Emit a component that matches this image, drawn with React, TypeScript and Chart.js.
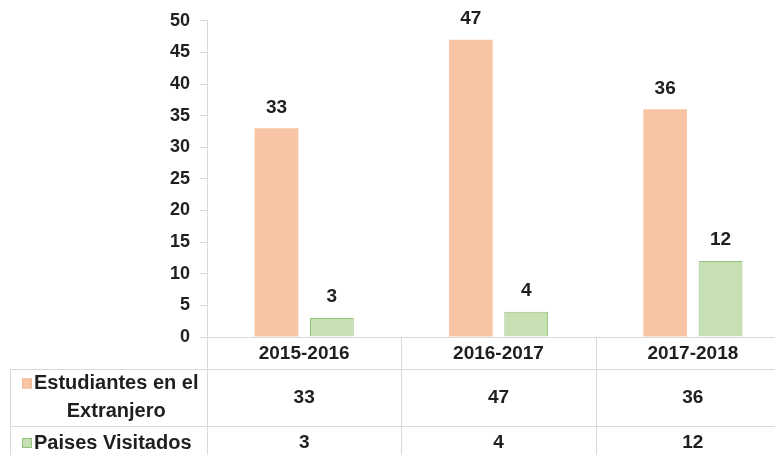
import React, { useEffect, useRef } from 'react';
import { Chart, registerables } from 'chart.js';

Chart.register(...registerables);

const categories = ['2015-2016', '2016-2017', '2017-2018'];
const estudiantes = [33, 47, 36];
const paises = [3, 4, 12];
const seriesNames = ['Estudiantes en el Extranjero', 'Paises Visitados'];
const seriesLabelLines = [['Estudiantes en el', 'Extranjero'], ['Paises Visitados']];
const yMin = 0;
const yMax = 50;
const yStep = 5;

const FONT_FAMILY = "'Liberation Sans', Arial, sans-serif";
const TEXT = '#1f1f1f';
const LINE = '#d9d9d9';
const ORANGE = '#F8C5A4';
const ORANGE_BORDER = '#F4B892';
const GREEN = '#C6E0B4';
const GREEN_BORDER = '#93C47D';

export default function App() {
  const ref = useRef<HTMLCanvasElement>(null);

  useEffect(() => {
    if (!ref.current) return;

    const valueLabels = {
      id: 'valueLabels',
      afterDatasetsDraw(chart: any) {
        const ctx = chart.ctx;
        ctx.save();
        ctx.font = `bold 19px ${FONT_FAMILY}`;
        ctx.fillStyle = TEXT;
        ctx.textAlign = 'center';
        ctx.textBaseline = 'middle';
        chart.data.datasets.forEach((ds: any, di: number) => {
          const meta = chart.getDatasetMeta(di);
          meta.data.forEach((el: any, i: number) => {
            ctx.fillText(String(ds.data[i]), el.x, el.y - 21);
          });
        });
        ctx.restore();
      },
    };

    const dataTable = {
      id: 'dataTable',
      afterDraw(chart: any) {
        const ctx = chart.ctx;
        const xs = chart.scales.x;
        const area = chart.chartArea;
        const top = area.bottom;
        const r1 = top + 32;
        const r2 = r1 + 57;
        const bottom = r2 + 34;
        const tableLeft = 10;
        const n = categories.length;
        const w = (area.right - area.left) / n;
        ctx.save();
        ctx.strokeStyle = LINE;
        ctx.lineWidth = 1;
        for (let i = 0; i <= n; i++) {
          const x = Math.round(area.left + i * w) + 0.5;
          ctx.beginPath();
          ctx.moveTo(x, top);
          ctx.lineTo(x, bottom);
          ctx.stroke();
        }
        ctx.beginPath();
        ctx.moveTo(tableLeft + 0.5, r1);
        ctx.lineTo(tableLeft + 0.5, bottom);
        ctx.stroke();
        [r1, r2, bottom].forEach((y) => {
          ctx.beginPath();
          ctx.moveTo(tableLeft, Math.round(y) + 0.5);
          ctx.lineTo(area.right, Math.round(y) + 0.5);
          ctx.stroke();
        });

        ctx.fillStyle = TEXT;
        ctx.textBaseline = 'middle';
        const rows = [
          { y0: r1, y1: r2, data: estudiantes, color: ORANGE, border: ORANGE_BORDER, lines: seriesLabelLines[0] },
          { y0: r2, y1: bottom, data: paises, color: GREEN, border: GREEN_BORDER, lines: seriesLabelLines[1] },
        ];
        rows.forEach((row) => {
          const cy = (row.y0 + row.y1) / 2;
          ctx.font = `bold 19px ${FONT_FAMILY}`;
          ctx.textAlign = 'center';
          ctx.fillStyle = TEXT;
          row.data.forEach((v, i) => {
            ctx.fillText(String(v), xs.getPixelForValue(i), cy);
          });
          ctx.font = `bold 20px ${FONT_FAMILY}`;
          const lh = 28;
          const firstY = cy - ((row.lines.length - 1) * lh) / 2;
          const textLeft = 34;
          const firstWidth = ctx.measureText(row.lines[0]).width;
          ctx.fillStyle = row.color;
          ctx.fillRect(22, firstY - 5, 10, 10);
          ctx.strokeStyle = row.border;
          ctx.strokeRect(22.5, firstY - 4.5, 9, 9);
          ctx.fillStyle = TEXT;
          ctx.textAlign = 'left';
          ctx.fillText(row.lines[0], textLeft, firstY);
          ctx.textAlign = 'center';
          for (let k = 1; k < row.lines.length; k++) {
            ctx.fillText(row.lines[k], textLeft + firstWidth / 2, firstY + k * lh);
          }
        });
        ctx.restore();
      },
    };

    const chart = new Chart(ref.current, {
      type: 'bar',
      data: {
        labels: categories,
        datasets: [
          {
            label: seriesNames[0],
            data: estudiantes,
            backgroundColor: ORANGE,
            borderColor: ORANGE_BORDER,
            borderWidth: 0,
            categoryPercentage: 0.57,
            barPercentage: 0.79,
          },
          {
            label: seriesNames[1],
            data: paises,
            backgroundColor: GREEN,
            borderColor: GREEN_BORDER,
            borderWidth: 1,
            categoryPercentage: 0.57,
            barPercentage: 0.79,
          },
        ],
      },
      options: {
        responsive: false,
        animation: false,
        devicePixelRatio: 1,
        layout: { padding: { top: 20, right: 10, left: 0, bottom: 0 } },
        plugins: {
          legend: { display: false },
          tooltip: { enabled: false },
        },
        scales: {
          x: {
            grid: { display: false, drawTicks: false },
            border: { display: true, color: LINE },
            ticks: {
              color: TEXT,
              font: { family: FONT_FAMILY, size: 19, weight: 'bold' },
              padding: 5,
              maxRotation: 0,
            },
            afterFit(scale: any) {
              scale.height = 118;
            },
          },
          y: {
            min: yMin,
            max: yMax,
            grid: { drawOnChartArea: false, drawTicks: true, tickLength: 7, tickColor: LINE },
            border: { display: true, color: LINE },
            ticks: {
              stepSize: yStep,
              color: TEXT,
              font: { family: FONT_FAMILY, size: 18, weight: 'bold' },
              padding: 10,
            },
            afterFit(scale: any) {
              scale.width = 207;
            },
          },
        },
      },
      plugins: [valueLabels, dataTable],
    });
    return () => chart.destroy();
  }, []);

  return (
    <div style={{ position: 'fixed', left: 0, top: 0, width: 775, height: 455, overflow: 'hidden', background: '#fff' }}>
      <canvas ref={ref} width={800} height={455} style={{ display: 'block' }} />
    </div>
  );
}
